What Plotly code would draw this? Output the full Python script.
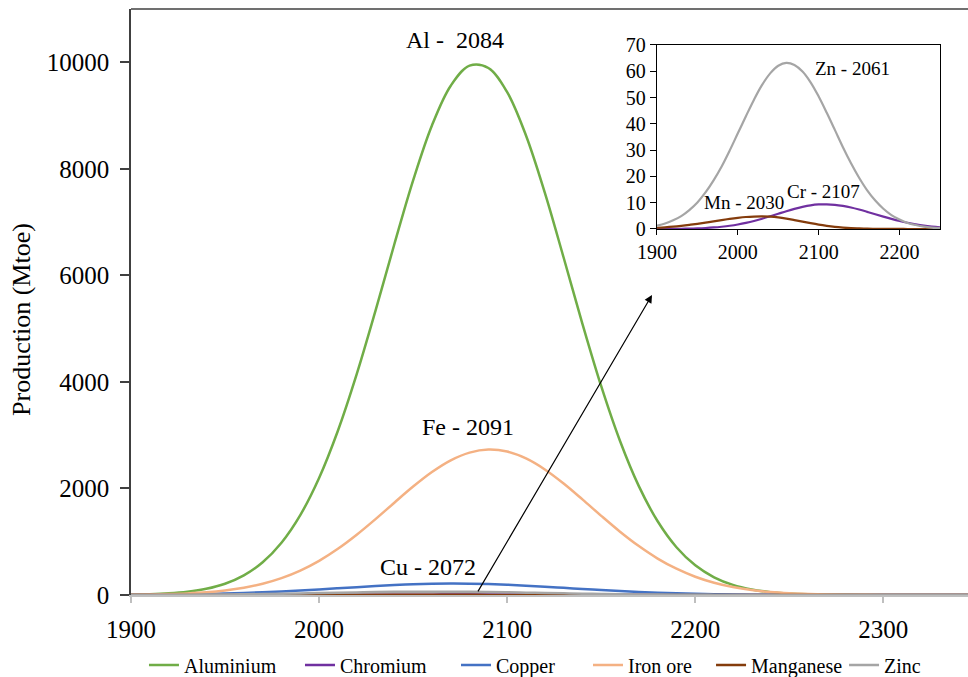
import plotly.graph_objects as go

years = [1900, 1910, 1920, 1930, 1940, 1950, 1960, 1970, 1980, 1990,
         2000, 2010, 2020, 2030, 2040, 2050, 2060, 2070, 2080, 2090,
         2100, 2110, 2120, 2130, 2140, 2150, 2160, 2170, 2180, 2190,
         2200, 2210, 2220, 2230, 2240, 2250, 2260, 2270, 2280, 2290,
         2300, 2310, 2320, 2330, 2340, 2350]

aluminium = [7, 15, 31, 62, 117, 212, 369, 615, 982, 1500,
             2197, 3083, 4145, 5337, 6584, 7783, 8813, 9560, 9936, 9893,
             9438, 8625, 7552, 6335, 5091, 3919, 2891, 2043, 1384, 897,
             557, 332, 189, 103, 54, 27, 13, 6, 3, 1,
             0, 0, 0, 0, 0, 0]

chromium = [0.02, 0.03, 0.05, 0.09, 0.15, 0.24, 0.38, 0.58, 0.86, 1.23,
            1.71, 2.32, 3.05, 3.89, 4.82, 5.80, 6.77, 7.67, 8.43, 9.01,
            9.33, 9.39, 9.20, 8.77, 8.16, 7.39, 6.52, 5.61, 4.70, 3.84,
            3.05, 2.36, 1.79, 1.31, 0.94, 0.66, 0.45, 0.30, 0.19, 0.12,
            0.07, 0.04, 0.02, 0.01, 0.01, 0]

copper = [3.5, 5.6, 8.7, 13.1, 19.1, 27.2, 37.6, 50.7, 66.3, 84.5,
          104.7, 126, 147.7, 168.3, 186.5, 201, 210.7, 215, 213, 205.5,
          192.8, 175.9, 156.1, 134.8, 113.1, 92.4, 73.3, 56.6, 42.5, 31.1,
          22.1, 15.3, 10.3, 6.7, 4.3, 2.6, 1.6, 0.9, 0.5, 0.3,
          0.2, 0.1, 0, 0, 0, 0]

iron_ore = [5, 9, 17, 30, 51, 85, 136, 212, 317, 459,
            642, 868, 1132, 1425, 1733, 2035, 2308, 2528, 2673, 2730,
            2692, 2563, 2357, 2093, 1795, 1486, 1188, 918, 684, 493,
            343, 230, 149, 93, 56, 33, 19, 10, 5, 3,
            1, 0, 0, 0, 0, 0]

manganese = [0.46, 0.65, 0.89, 1.20, 1.56, 1.97, 2.43, 2.91, 3.39, 3.84,
             4.23, 4.55, 4.73, 4.80, 4.69, 4.40, 3.95, 3.39, 2.79, 2.20,
             1.66, 1.20, 0.82, 0.55, 0.34, 0.22, 0.12, 0.07, 0.04, 0.02,
             0.01, 0, 0, 0, 0, 0, 0, 0, 0, 0,
             0, 0, 0, 0, 0, 0]

zinc = [1.3, 2.1, 3.3, 4.9, 7.2, 10.1, 13.9, 18.5, 23.8, 29.9,
        36.4, 42.9, 49.2, 54.8, 59.2, 62.1, 63.2, 62.4, 59.9, 55.8,
        50.4, 44.2, 37.7, 31.1, 25.0, 19.5, 14.7, 10.8, 7.7, 5.3,
        3.6, 2.3, 1.5, 0.9, 0.54, 0.31, 0.17, 0.09, 0.05, 0.03,
        0.01, 0, 0, 0, 0, 0]

series_names = ["Aluminium", "Chromium", "Copper", "Iron ore", "Manganese", "Zinc"]
series_values = [aluminium, chromium, copper, iron_ore, manganese, zinc]
series_colors = ["#70ad47", "#7030a0", "#4472c4", "#f4b183", "#843c0c", "#a5a5a5"]
inset_series = ["Zinc", "Chromium", "Manganese"]

main_xticks = [1900, 2000, 2100, 2200, 2300]
main_yticks = [0, 2000, 4000, 6000, 8000, 10000]
inset_xticks = [1900, 2000, 2100, 2200]
inset_yticks = [0, 10, 20, 30, 40, 50, 60, 70]

main_labels = [("Al -  2084", 2072, 10413), ("Fe - 2091", 2079, 3150), ("Cu - 2072", 2058, 525)]
inset_labels = [("Zn - 2061", 2142, 61.2), ("Mn - 2030", 2008, 9.9), ("Cr - 2107", 2106, 14.1)]

# legend entry positions (paper x of each entry's left edge)
legend_x = [0.0155, 0.2019, 0.3883, 0.546, 0.693, 0.8519]

FONT = "Liberation Serif, Times New Roman, serif"

fig = go.Figure()
legend_ids = ["legend"] + ["legend%d" % (i + 1) for i in range(1, len(series_names))]
for name, vals, col, lid in zip(series_names, series_values, series_colors, legend_ids):
    fig.add_trace(go.Scatter(x=years, y=vals, mode="lines", name=name,
                             line=dict(color=col, width=2.5, shape="spline"),
                             xaxis="x", yaxis="y", legend=lid))
for name, vals, col in zip(series_names, series_values, series_colors):
    if name in inset_series:
        fig.add_trace(go.Scatter(x=years, y=vals, mode="lines", name=name,
                                 line=dict(color=col, width=2.2, shape="spline"),
                                 xaxis="x2", yaxis="y2", showlegend=False))

annotations = []
for txt, x, y in main_labels:
    annotations.append(dict(text=txt, x=x, y=y, xref="x", yref="y", showarrow=False,
                            font=dict(family=FONT, size=24, color="black")))
for txt, x, y in inset_labels:
    annotations.append(dict(text=txt, x=x, y=y, xref="x2", yref="y2", showarrow=False,
                            font=dict(family=FONT, size=19, color="black")))
# arrow pointing to the inset
annotations.append(dict(text="", x=2177, y=5630, ax=2084, ay=40, xref="x", yref="y",
                        axref="x", ayref="y", showarrow=True, arrowhead=2,
                        arrowsize=1.3, arrowwidth=1.2, arrowcolor="black"))
# y title
annotations.append(dict(text="Production (Mtoe)", x=-0.131, y=0.47, xref="paper", yref="paper",
                        textangle=-90, showarrow=False, xanchor="center", yanchor="middle",
                        font=dict(family=FONT, size=26, color="black")))

legends = {}
for lid, lx in zip(legend_ids, legend_x):
    legends[lid] = dict(orientation="h", x=lx, xanchor="left", y=-0.1195, yanchor="middle",
                        font=dict(family=FONT, size=20, color="black"), itemwidth=30,
                        bgcolor="rgba(0,0,0,0)")

fig.update_layout(
    width=968, height=677,
    margin=dict(l=131, r=0, t=9, b=82, autoexpand=False),
    paper_bgcolor="white", plot_bgcolor="white",
    font=dict(family=FONT, color="black"),
    xaxis=dict(range=[1900, 2345], tickvals=main_xticks, ticktext=[str(v) for v in main_xticks],
               showgrid=False, zeroline=False, showline=True, linecolor="#bfbfbf", linewidth=1.5,
               ticks="outside", ticklen=6, tickcolor="#bfbfbf", tickwidth=1.5,
               tickfont=dict(family=FONT, size=25, color="black"), ticklabelstandoff=5),
    yaxis=dict(range=[0, 11000], tickvals=main_yticks, ticktext=[str(v) for v in main_yticks],
               showgrid=False, zeroline=False, showline=True, linecolor="#404040", linewidth=1.5,
               ticks="outside", ticklen=9, tickcolor="#404040", tickwidth=1.5,
               tickfont=dict(family=FONT, size=25, color="black"), ticklabelstandoff=6),
    xaxis2=dict(domain=[0.6284, 0.9665], anchor="y2", range=[1900, 2250],
                tickvals=inset_xticks, ticktext=[str(v) for v in inset_xticks],
                showgrid=False, zeroline=False,
                showline=True, mirror=True, linecolor="black", linewidth=1.3,
                ticks="outside", ticklen=5, tickcolor="black",
                tickfont=dict(family=FONT, size=20, color="black")),
    yaxis2=dict(domain=[0.6246, 0.9386], anchor="x2", range=[0, 70],
                tickvals=inset_yticks, ticktext=[str(v) for v in inset_yticks],
                showgrid=False, zeroline=False, showline=True, mirror=True,
                linecolor="black", linewidth=1.3, ticks="outside", ticklen=6, tickcolor="black",
                tickfont=dict(family=FONT, size=20, color="black")),
    annotations=annotations,
    shapes=[dict(type="line", xref="paper", yref="paper", x0=0, x1=1, y0=1, y1=1,
                 line=dict(color="#404040", width=1.5))],
    **legends,
)

fig.write_html("out.html")
